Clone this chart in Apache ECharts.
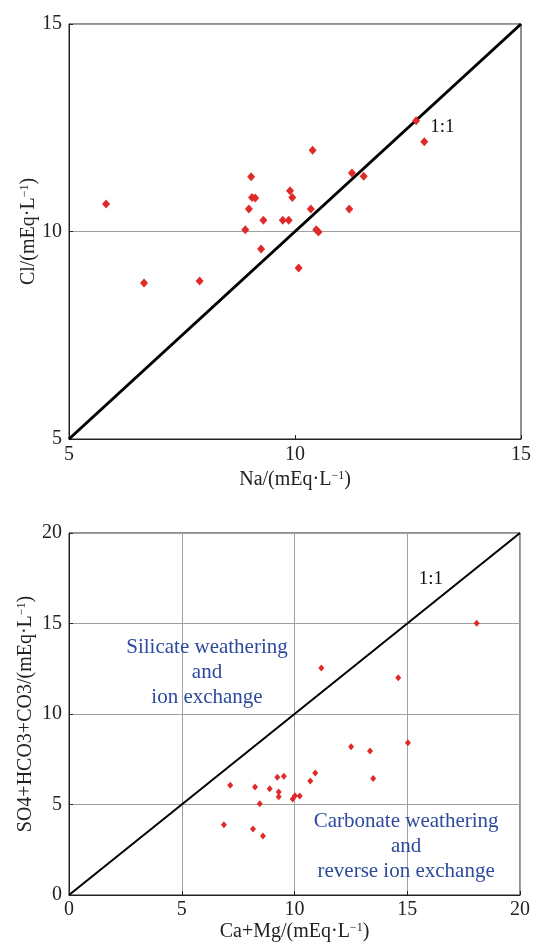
<!DOCTYPE html>
<html>
<head>
<meta charset="utf-8">
<script src="https://cdn.jsdelivr.net/npm/echarts@6/dist/echarts.min.js"></script>
<style>
  html, body { margin: 0; padding: 0; background: #fff; }
  #box { width: 534px; height: 944px; }
</style>
</head>
<body>
<div id="box"></div>
<script>
// Na vs Cl (top panel)
var naValues = [5.82, 6.66, 7.89, 8.90, 8.98, 9.03, 9.05, 9.12, 9.30, 9.25, 9.73, 9.86, 9.89, 9.94,
  10.08, 10.39, 10.35, 10.47, 10.52, 12.68, 12.86, 11.26, 11.52, 11.20];
var clValues = [10.66, 8.76, 8.81, 10.04, 10.54, 11.32, 10.82, 10.81, 10.27, 9.58, 10.27, 10.27, 10.98, 10.82,
  9.12, 11.96, 10.54, 10.04, 9.99, 12.67, 12.16, 11.41, 11.33, 10.54];

// Ca+Mg vs SO4+HCO3+CO3 (bottom panel)
var caMgValues = [18.08, 11.19, 14.60, 15.03, 12.51, 13.35, 13.49, 10.92, 10.70, 9.53, 9.24, 7.15, 8.25,
  8.90, 9.30, 9.30, 9.92, 10.02, 10.23, 8.46, 6.87, 8.16, 8.60];
var anionValues = [15.01, 12.54, 12.0, 8.41, 8.19, 7.96, 6.43, 6.74, 6.30, 6.56, 6.50, 6.06, 5.97,
  5.87, 5.69, 5.43, 5.30, 5.49, 5.47, 5.04, 3.88, 3.65, 3.26];

var topLine = [[5, 5], [15, 15]];
var bottomLine = [[0, 0], [20, 20]];

var serif = '"Liberation Serif", "Times New Roman", serif';
var red = '#e02a2a';
var blue = '#2d4a9c';

function pairs(xs, ys) {
  return xs.map(function(x, i) { return [x, ys[i]]; });
}

function axisBase(idx, minV, maxV, name, gap, margin, showSplit) {
  return {
    gridIndex: idx,
    type: 'value',
    min: minV,
    max: maxV,
    interval: 5,
    name: name,
    nameLocation: 'middle',
    nameGap: gap,
    nameMoveOverlap: false,
    nameTextStyle: {
      fontFamily: serif, fontSize: 20, color: '#222',
      rich: {
        sup: { fontFamily: serif, fontSize: 12, color: '#222', verticalAlign: 'top', padding: [0, 0, 8, 0] }
      }
    },
    axisLine: { show: true, lineStyle: { color: '#222', width: 1 } },
    axisTick: { show: true, inside: true, length: 4, lineStyle: { color: '#222' } },
    axisLabel: { fontFamily: serif, fontSize: 20, color: '#222', margin: margin },
    splitLine: { show: showSplit, lineStyle: { color: '#a0a0a0', width: 1 } }
  };
}

var chart = echarts.init(document.getElementById('box'));

var option = {
  animation: false,
  grid: [
    { left: 69, top: 24, width: 453, height: 415, show: true, borderColor: '#222', borderWidth: 1 },
    { left: 69, top: 533, width: 451, height: 362, show: true, borderColor: '#222', borderWidth: 1 }
  ],
  xAxis: [
    axisBase(0, 5, 15, 'Na/(mEq·L{sup|−1})', 31, 6, false),
    axisBase(1, 0, 20, 'Ca+Mg/(mEq·L{sup|−1})', 27, 5, true)
  ],
  yAxis: [
    axisBase(0, 5, 15, 'Cl/(mEq·L{sup|−1})', 30, 7, true),
    axisBase(1, 0, 20, 'SO4+HCO3+CO3/(mEq·L{sup|−1})', 33, 7, true)
  ],
  series: [
    {
      type: 'line', xAxisIndex: 0, yAxisIndex: 0, data: topLine, symbol: 'none',
      lineStyle: { color: '#000', width: 3 }, z: 2
    },
    {
      type: 'line', xAxisIndex: 1, yAxisIndex: 1, data: bottomLine, symbol: 'none',
      lineStyle: { color: '#000', width: 2 }, z: 2
    },
    {
      type: 'scatter', xAxisIndex: 0, yAxisIndex: 0, data: pairs(naValues, clValues),
      symbol: 'diamond', symbolSize: [8, 9], itemStyle: { color: red, opacity: 1 }, z: 3
    },
    {
      type: 'scatter', xAxisIndex: 1, yAxisIndex: 1, data: pairs(caMgValues, anionValues),
      symbol: 'diamond', symbolSize: [6, 7], itemStyle: { color: red, opacity: 1 }, z: 3
    },
    {
      // text annotations placed in data coordinates
      type: 'scatter', xAxisIndex: 0, yAxisIndex: 0, symbolSize: 0, silent: true,
      itemStyle: { opacity: 1 },
      data: [{ value: [13.26, 12.52], name: '1:1' }],
      label: { show: true, position: 'inside', formatter: '{b}', fontFamily: serif, fontSize: 19, color: '#111' }
    },
    {
      type: 'scatter', xAxisIndex: 1, yAxisIndex: 1, symbolSize: 0, silent: true,
      itemStyle: { opacity: 1 },
      data: [
        { value: [16.05, 17.46], name: '1:1', label: { color: '#111', fontSize: 19 } },
        { value: [6.12, 12.27], name: 'Silicate weathering\nand\nion exchange' },
        { value: [14.95, 2.7], name: 'Carbonate weathering\nand\nreverse ion exchange' }
      ],
      label: {
        show: true, position: 'inside', formatter: '{b}', fontFamily: serif, fontSize: 21,
        lineHeight: 25, color: blue, align: 'center'
      }
    }
  ]
};

chart.setOption(option);
</script>
</body>
</html>
